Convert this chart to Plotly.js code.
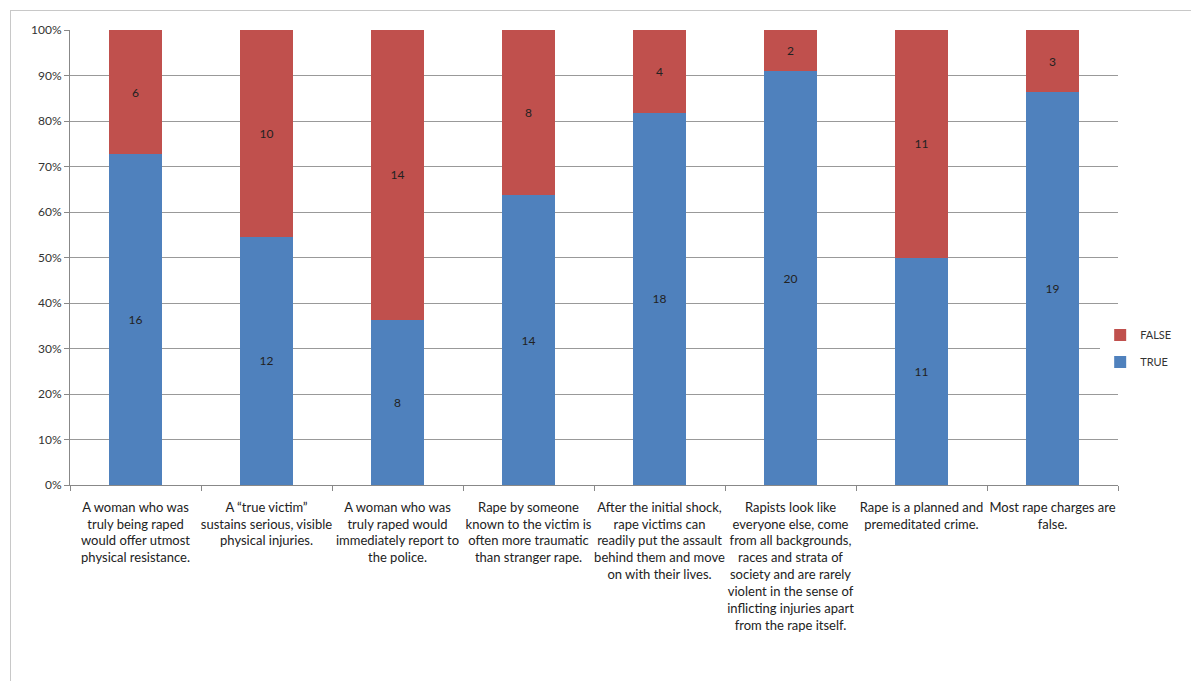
<!DOCTYPE html>
<html>
<head>
<meta charset="utf-8">
<script src="https://cdn.plot.ly/plotly-3.0.1.min.js"></script>
<style>
  html, body { margin: 0; padding: 0; background: #fff; overflow: hidden; }
  #frame { position: absolute; left: 10px; top: 10px; width: 1230px; height: 690px; border: 1px solid #c8c8c8; }
  #chart { width: 1220px; height: 680px; }
</style>
</head>
<body>
<div id="frame"><div id="chart"></div></div>
<script>
const categories = [
  "A woman who was<br>truly being raped<br>would offer utmost<br>physical resistance.",
  "A \u201ctrue victim\u201d<br>sustains serious, visible<br>physical injuries.",
  "A woman who was<br>truly raped would<br>immediately report to<br>the police.",
  "Rape by someone<br>known to the victim is<br>often more traumatic<br>than stranger rape.",
  "After the initial shock,<br>rape victims can<br>readily put the assault<br>behind them and move<br>on with their lives.",
  "Rapists look like<br>everyone else, come<br>from all backgrounds,<br>races and strata of<br>society and are rarely<br>violent in the sense of<br>inflicting injuries apart<br>from the rape itself.",
  "Rape is a planned and<br>premeditated crime.",
  "Most rape charges are<br>false."
];
const trueValues = [16, 12, 8, 14, 18, 20, 11, 19];
const falseValues = [6, 10, 14, 8, 4, 2, 11, 3];
const yTickVals = [0, 10, 20, 30, 40, 50, 60, 70, 80, 90, 100];
const yTickText = ["0%", "10%", "20%", "30%", "40%", "50%", "60%", "70%", "80%", "90%", "100%"];

const FONT = "Lato, Liberation Sans, sans-serif";
const labelFont = { family: FONT, size: 12, color: "#222" };

const traces = [
  {
    type: "bar", name: "TRUE", x: categories, y: trueValues, legendgroup: "t", legendrank: 2,
    text: trueValues.map(String), textposition: "inside", insidetextanchor: "middle",
    textfont: labelFont, marker: { color: "#4F81BD" }, hoverinfo: "skip"
  },
  {
    type: "bar", name: "FALSE", x: categories, y: falseValues, legendgroup: "f", legendrank: 1,
    text: falseValues.map(String), textposition: "inside", insidetextanchor: "middle",
    textfont: labelFont, marker: { color: "#C0504D" }, hoverinfo: "skip"
  }
];

const layout = {
  width: 1220, height: 680,
  margin: { l: 59, r: 113, t: 19, b: 206 },
  paper_bgcolor: "#fff", plot_bgcolor: "#fff",
  barmode: "stack", barnorm: "percent", bargap: 0.6,
  showlegend: true,
  legend: {
    x: 0.983, xanchor: "left", y: 0.3, yanchor: "middle",
    traceorder: "grouped",
    font: { family: FONT, size: 11, color: "#333" },
    itemwidth: 30, tracegroupgap: 8
  },
  xaxis: {
    type: "category",
    tickfont: { family: FONT, size: 13, color: "#222" },
    showline: true, linecolor: "#888", linewidth: 1,
    ticks: "outside", ticklen: 5, tickcolor: "#888",
    tickson: "boundaries", ticklabelstandoff: 10,
    showgrid: false, tickangle: 0, automargin: false
  },
  yaxis: {
    range: [0, 100], tickvals: yTickVals, ticktext: yTickText,
    tickfont: { family: FONT, size: 12, color: "#333" },
    showline: true, linecolor: "#888", linewidth: 1,
    ticks: "outside", ticklen: 5, tickcolor: "#888",
    showgrid: true, gridcolor: "#999", gridwidth: 1,
    zeroline: false, automargin: false, fixedrange: true
  }
};

Plotly.newPlot("chart", traces, layout, { displayModeBar: false, staticPlot: true });
</script>
</body>
</html>
